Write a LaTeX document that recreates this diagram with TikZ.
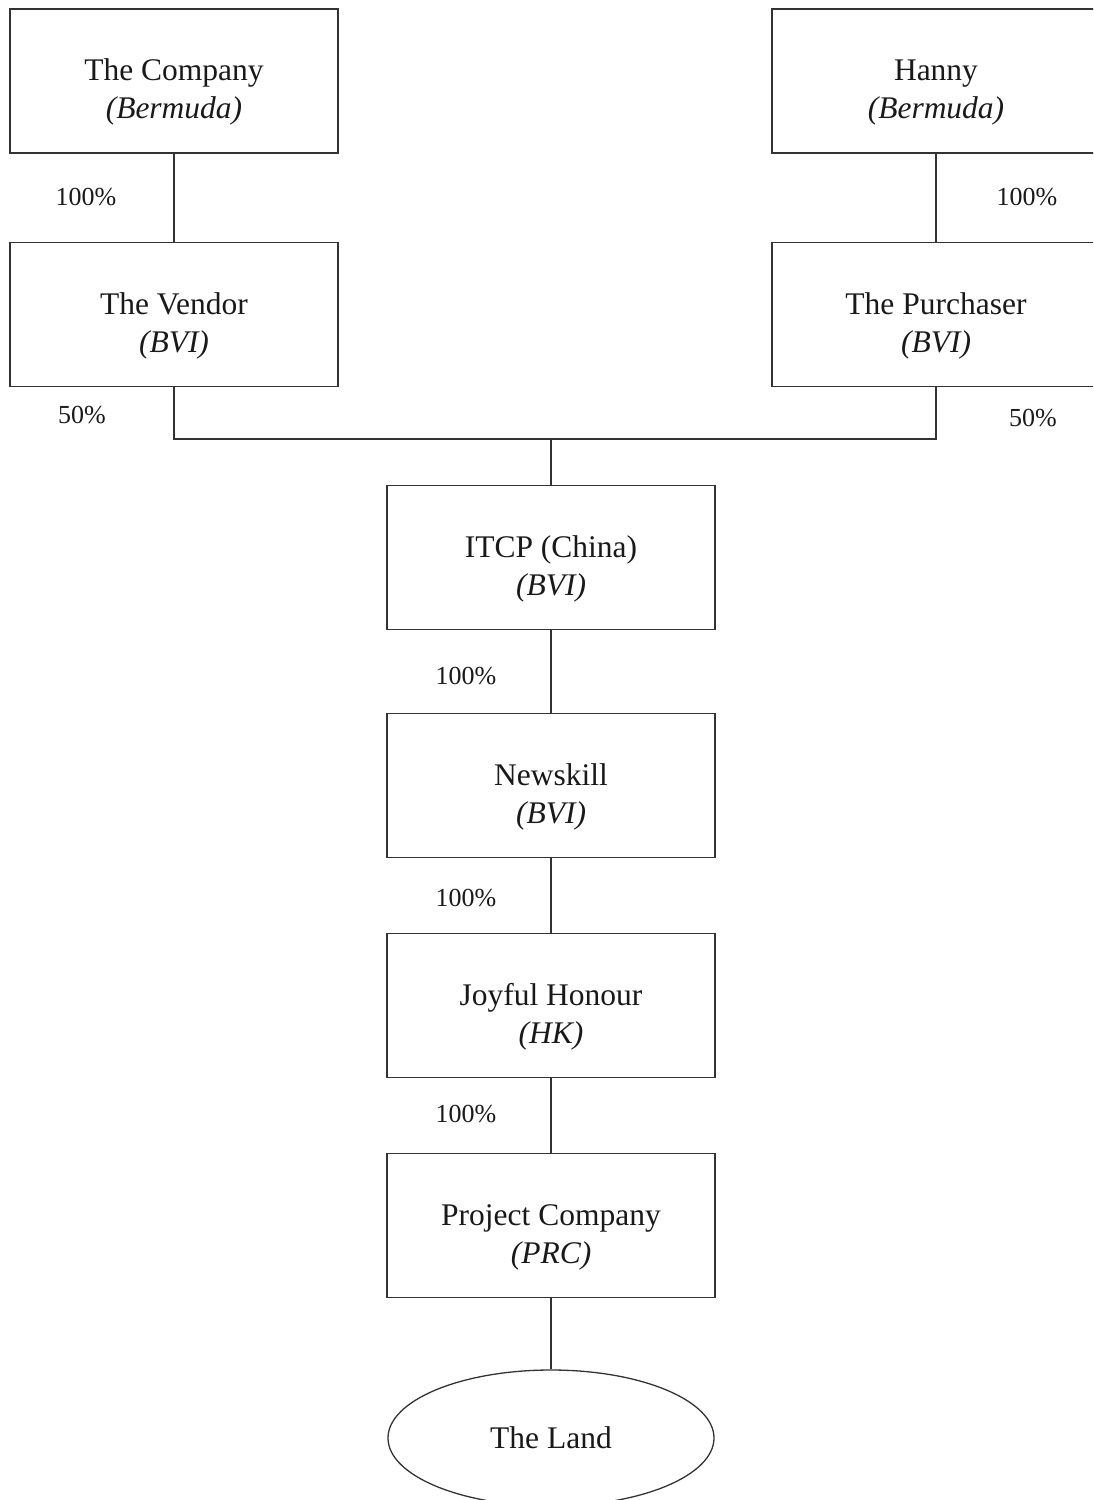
\documentclass[tikz,border=0pt]{standalone}
\usepackage{fontspec}
\setmainfont{Liberation Serif}
\usetikzlibrary{shapes.geometric}
\newcommand\mytopstrut{\rule{0pt}{44pt}}
\begin{document}
\begin{tikzpicture}[x=1pt,y=-1pt,
  entity/.style={draw=black!80,line width=1.3pt,rectangle,minimum width=328pt,minimum height=144pt,align=center,text=black!90,font=\fontsize{31.5}{38}\selectfont,inner sep=0pt},
  land/.style={draw=black!80,line width=1.3pt,ellipse,minimum width=326pt,minimum height=136pt,text=black!90,font=\fontsize{31.5}{38}\selectfont,inner sep=0pt},
  link/.style={draw=black!80,line width=1.3pt},
  pct/.style={text=black!90,font=\fontsize{26}{30}\selectfont,inner sep=0pt}]
\useasboundingbox (0,0) rectangle (1093,1500);
\clip (0,0) rectangle (1093,1500);
\node[entity] (company) at (174,81) {\mytopstrut The Company\\\textit{(Bermuda)}};
\node[entity] (vendor) at (174,314.5) {\mytopstrut The Vendor\\\textit{(BVI)}};
\node[entity] (hanny) at (936,81) {\mytopstrut Hanny\\\textit{(Bermuda)}};
\node[entity] (purchaser) at (936,314.5) {\mytopstrut The Purchaser\\\textit{(BVI)}};
\node[entity] (itcp) at (551,557.5) {\mytopstrut ITCP (China)\\\textit{(BVI)}};
\node[entity] (newskill) at (551,785.5) {\mytopstrut Newskill\\\textit{(BVI)}};
\node[entity] (joyful) at (551,1005.5) {\mytopstrut Joyful Honour\\\textit{(HK)}};
\node[entity] (project) at (551,1225.5) {\mytopstrut Project Company\\\textit{(PRC)}};
\node[land] (theland) at (551,1438) {The Land};
\coordinate (join) at (551,439);
\draw[link] (company.south) -- (vendor.north);
\draw[link] (hanny.south) -- (purchaser.north);
\draw[link] (vendor.south) |- (join) -| (purchaser.south);
\draw[link] (join) -- (itcp.north);
\draw[link] (itcp.south) -- (newskill.north);
\draw[link] (newskill.south) -- (joyful.north);
\draw[link] (joyful.south) -- (project.north);
\draw[link] (project.south) -- (theland.north);
\node[pct] (p1) at (86,197) {100\%};
\node[pct] (p2) at (1027,197) {100\%};
\node[pct] (p3) at (82,415) {50\%};
\node[pct] (p4) at (1033,418) {50\%};
\node[pct] (p5) at (466,676) {100\%};
\node[pct] (p6) at (466,898) {100\%};
\node[pct] (p7) at (466,1114) {100\%};
\end{tikzpicture}
\end{document}
